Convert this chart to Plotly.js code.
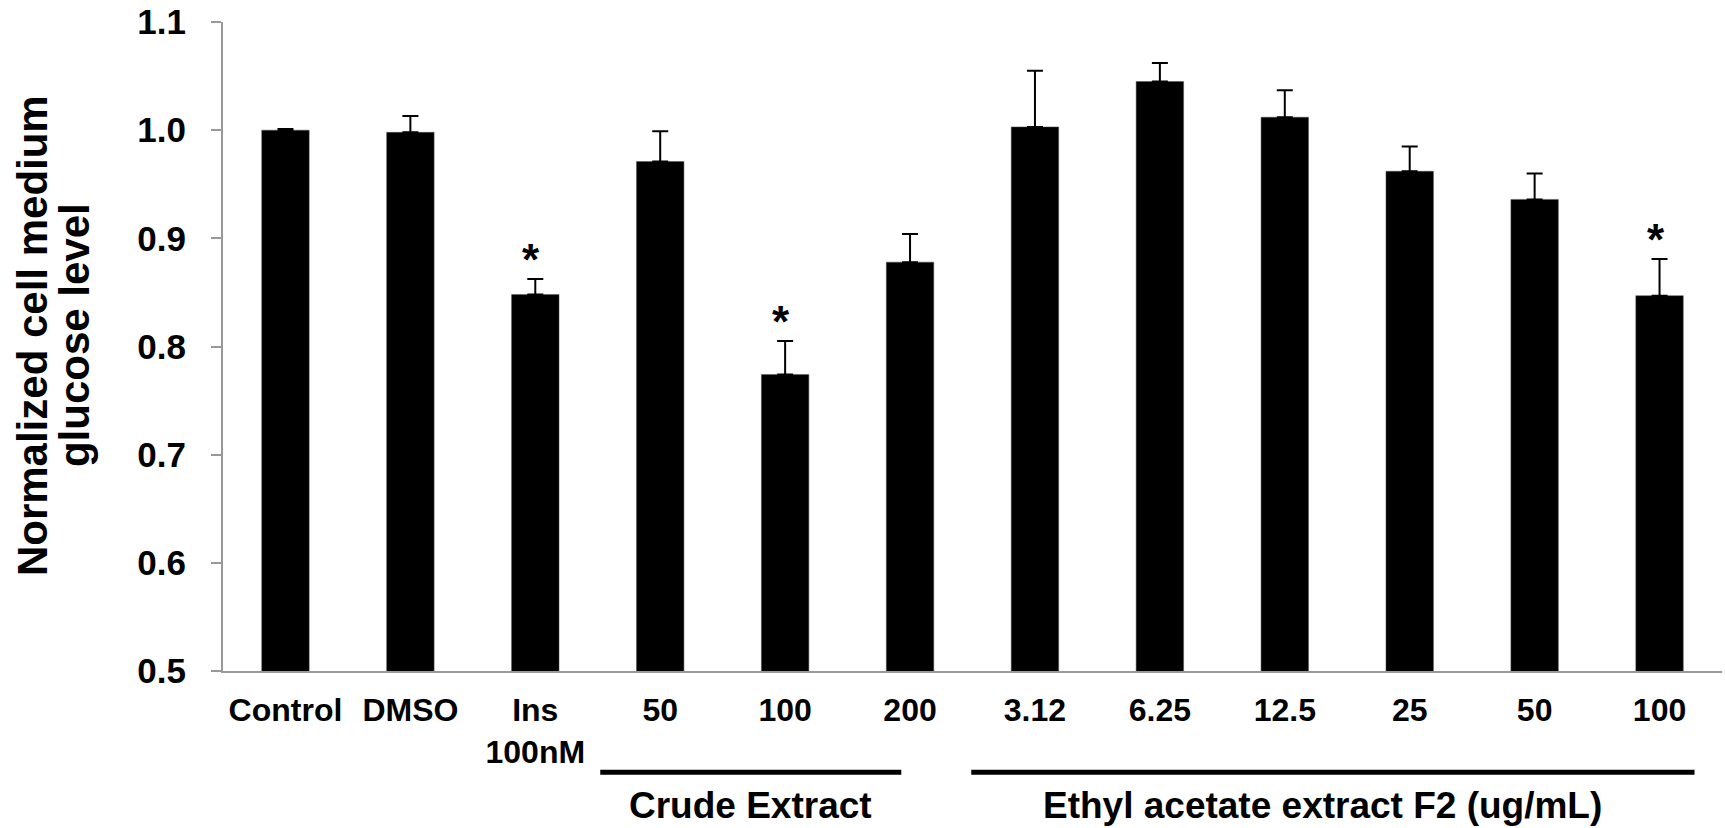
<!DOCTYPE html>
<html>
<head>
<meta charset="utf-8">
<script src="https://cdn.plot.ly/plotly-3.0.1.min.js"></script>
<style>
html,body{margin:0;padding:0;background:#fff;}
#chart{width:1725px;height:828px;}
</style>
</head>
<body>
<div id="chart"></div>
<script>
// ---- data ----
const categories = ["Control", "DMSO", "Ins<br>100nM", "50", "100", "200", "3.12", "6.25", "12.5", "25", "50", "100"];
const values =     [1.000, 0.998, 0.848, 0.971, 0.774, 0.878, 1.003, 1.045, 1.012, 0.962, 0.936, 0.847];
const errors =     [0.001, 0.015, 0.0145, 0.028, 0.031, 0.026, 0.052, 0.017, 0.025, 0.023, 0.024, 0.034];
const significant = [false, false, true, false, true, false, false, false, false, false, false, true];
const groupLabels = ["Crude Extract", "Ethyl acetate extract F2 (ug/mL)"];
const yTitleLines = ["Normalized cell medium", "glucose level"];
const yTicks = [0.5, 0.6, 0.7, 0.8, 0.9, 1.0, 1.1];

const FONT = "Arial, 'Liberation Sans', Helvetica, sans-serif";
const xs = categories.map((_, i) => i);

const trace = {
  type: "bar",
  x: xs,
  y: values,
  marker: {color: "#000000", line: {color: "#555555", width: 0.5}},
  width: 0.38,
  error_y: {
    type: "data",
    symmetric: false,
    array: errors,
    arrayminus: errors.map(() => 0),
    color: "#000000",
    thickness: 2,
    width: 8,
    visible: true
  },
  hoverinfo: "none"
};

const annotations = [];
xs.forEach(i => {
  if (significant[i]) {
    annotations.push({
      x: i, y: values[i] + errors[i], xref: "x", yref: "y",
      text: "<b>*</b>", showarrow: false,
      yanchor: "bottom", yshift: -7, xshift: -4,
      font: {family: FONT, size: 44, color: "#000"}
    });
  }
});
// y-axis title (two rotated lines)
const titleX = [-0.127, -0.099];
yTitleLines.forEach((t, k) => {
  annotations.push({
    x: titleX[k], y: 0.517, xref: "paper", yref: "paper",
    text: "<b>" + t + "</b>", textangle: -90, showarrow: false,
    xanchor: "center", yanchor: "middle",
    font: {family: FONT, size: 42, color: "#000"}
  });
});
// group labels
annotations.push({
  x: 3.72, y: -0.207, xref: "x", yref: "paper", text: "<b>" + groupLabels[0] + "</b>",
  showarrow: false, xanchor: "center", yanchor: "middle",
  font: {family: FONT, size: 37, color: "#000"}
});
annotations.push({
  x: 8.3, y: -0.207, xref: "x", yref: "paper", text: "<b>" + groupLabels[1] + "</b>",
  showarrow: false, xanchor: "center", yanchor: "middle",
  font: {family: FONT, size: 37, color: "#000"}
});

const shapes = [
  {type: "line", xref: "x", yref: "paper", x0: 2.52, x1: 4.93, y0: -0.156, y1: -0.156,
   line: {color: "#000", width: 5}},
  {type: "line", xref: "x", yref: "paper", x0: 5.49, x1: 11.28, y0: -0.156, y1: -0.156,
   line: {color: "#000", width: 5}}
];

const layout = {
  width: 1725, height: 828,
  margin: {l: 223, r: 3, t: 22, b: 157},
  paper_bgcolor: "#fff", plot_bgcolor: "#fff",
  showlegend: false,
  bargap: 0.62,
  xaxis: {
    range: [-0.5, 11.5],
    tickvals: xs, ticktext: categories.map(c => "<b>" + c + "</b>"),
    showline: true, linecolor: "#999999", linewidth: 2,
    ticks: "", showgrid: false, zeroline: false,
    tickfont: {family: FONT, size: 32, color: "#000"},
    ticklabelstandoff: 10,
    fixedrange: true
  },
  yaxis: {
    range: [0.5, 1.1],
    tickvals: yTicks, ticktext: yTicks.map(v => "<b>" + v.toFixed(1) + "</b>"),
    showline: true, linecolor: "#999999", linewidth: 2,
    ticks: "outside", ticklen: 10, tickcolor: "#999999", tickwidth: 2,
    ticklabelstandoff: 18,
    showgrid: false, zeroline: false,
    tickfont: {family: FONT, size: 35, color: "#000"},
    automargin: false,
    fixedrange: true
  },
  annotations: annotations,
  shapes: shapes
};

Plotly.newPlot("chart", [trace], layout, {displayModeBar: false, staticPlot: true});
</script>
</body>
</html>
